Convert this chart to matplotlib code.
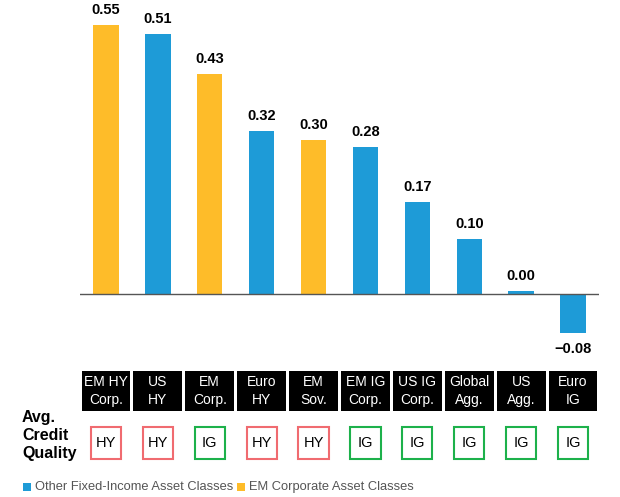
import matplotlib
matplotlib.use('Agg')
import matplotlib.pyplot as plt
from matplotlib.patches import Rectangle

plt.rcParams['font.family'] = ['Liberation Sans Narrow', 'Liberation Sans', 'DejaVu Sans']

# * dados
categorias = ['EM HY\nCorp.', 'US\nHY', 'EM\nCorp.', 'Euro\nHY', 'EM\nSov.',
              'EM IG\nCorp.', 'US IG\nCorp.', 'Global\nAgg.', 'US\nAgg.', 'Euro\nIG']
# alturas das barras; rotulos como impressos
valores = [0.527, 0.509, 0.431, 0.319, 0.301, 0.288, 0.180, 0.107, 0.005, -0.076]
rotulos = ['0.55', '0.51', '0.43', '0.32', '0.30', '0.28', '0.17', '0.10', '0.00', '\u22120.08']
grupo = ['EM', 'Other', 'EM', 'Other', 'EM', 'Other', 'Other', 'Other', 'Other', 'Other']
qualidade = ['HY', 'HY', 'IG', 'HY', 'HY', 'IG', 'IG', 'IG', 'IG', 'IG']
legenda = [('Other', 'Other Fixed-Income Asset Classes'), ('EM', 'EM Corporate Asset Classes')]

AZUL = '#1E9BD7'
AMARELO = '#FEBC29'
cores = {'Other': AZUL, 'EM': AMARELO}
cor_qual = {'HY': '#F06B70', 'IG': '#1DB14B'}
NEGRITO = ['Liberation Sans', 'DejaVu Sans']

W, H = 620, 497
fig = plt.figure(figsize=(W / 100, H / 100), dpi=100)

def px(x0, y0, x1, y1):
    return [x0 / W, 1 - y1 / H, (x1 - x0) / W, (y1 - y0) / H]

# * Gráfico de barras
ax = fig.add_axes(px(80, 0, 599, 360))
x = range(len(valores))
ax.bar(x, valores, width=0.49, color=[cores[g] for g in grupo], edgecolor='none')
ax.axhline(0, color='#555555', lw=1)
ax.set_xlim(-0.5, len(valores) - 0.5)
ax.set_ylim(-66 / 510, 294 / 510)
ax.axis('off')

for i, (v, r) in enumerate(zip(valores, rotulos)):
    if v >= 0:
        ax.annotate(r, (i, v), xytext=(0, 6), textcoords='offset points',
                    ha='center', va='bottom', fontsize=10.5, fontweight='bold',
                    family=NEGRITO)
    else:
        ax.annotate(r, (i, v), xytext=(0, -6.5), textcoords='offset points',
                    ha='center', va='top', fontsize=10.5, fontweight='bold',
                    family=NEGRITO)

# * Rótulos das categorias e qualidade de crédito
lab = fig.add_axes(px(80, 360, 599, 470))
lab.set_xlim(-0.5, len(valores) - 0.5)
lab.set_ylim(470, 360)
lab.axis('off')

for i, c in enumerate(categorias):
    lab.add_patch(Rectangle((i - 0.47, 371), 0.94, 40, color='black', lw=0))
    lab.text(i, 391, c, color='white', ha='center', va='center', fontsize=10,
             linespacing=1.32)
    q = qualidade[i]
    lab.add_patch(Rectangle((i - 0.29, 427), 0.58, 32, fill=False,
                            edgecolor=cor_qual[q], lw=1.5))
    lab.text(i, 443, q, ha='center', va='center', fontsize=10.5)

# * Camada em pixels para título lateral e legenda
ov = fig.add_axes([0, 0, 1, 1])
ov.set_xlim(0, W)
ov.set_ylim(H, 0)
ov.axis('off')

ov.text(22, 435.5, 'Avg.\nCredit\nQuality', ha='left', va='center',
        fontsize=11.5, fontweight='bold', linespacing=1.25, family=NEGRITO)

xs = [23, 237]
for (g, txt), x0 in zip(legenda, xs):
    ov.add_patch(Rectangle((x0, 483), 7.5, 7.5, color=cores[g], lw=0))
    ov.text(x0 + 12, 486.8, txt, ha='left', va='center', fontsize=9.3, color='#555555')

plt.savefig('out.png', dpi=100)
